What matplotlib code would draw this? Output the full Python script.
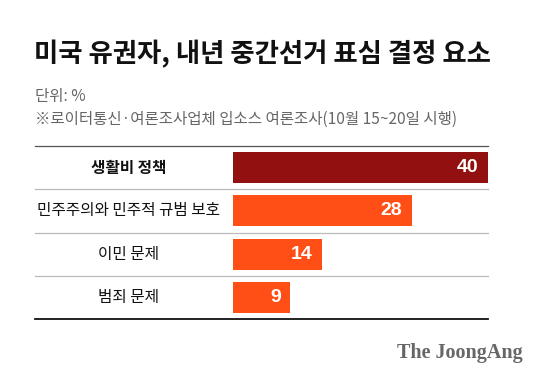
import matplotlib
matplotlib.use("Agg")
import matplotlib.pyplot as plt
from matplotlib.lines import Line2D

plt.rcParams['font.family'] = ['Noto Sans CJK KR', 'DejaVu Sans']

title = "미국 유권자, 내년 중간선거 표심 결정 요소"
unit = "단위: %"
note = "※로이터통신·여론조사업체 입소스 여론조사(10월 15~20일 시행)"
categories = ["생활비 정책", "민주주의와 민주적 규범 보호", "이민 문제", "범죄 문제"]
values = [40, 28, 14, 9]
colors = ["#921010", "#FF4F17", "#FF4F17", "#FF4F17"]
source = "The JoongAng"

W, H = 560, 385
fig = plt.figure(figsize=(W / 100, H / 100), dpi=100)
fig.patch.set_facecolor("white")

def fx(px):
    return px / W

def fy(py):
    return 1 - py / H

top, bottom = 146, 319
left, right = 233, 488
ax = fig.add_axes([fx(left), fy(bottom), fx(right) - fx(left), (bottom - top) / H])
ypos = list(range(len(categories)))
ax.barh(ypos, values, height=0.72, color=colors)
ax.set_xlim(0, 40)
ax.set_ylim(len(categories) - 0.5, -0.5)
ax.axis("off")

for y, v in zip(ypos, values):
    ax.text(v - 1.5, y, str(v), ha="right", va="center", color="white",
            fontsize=14, fontweight="bold", family=["Liberation Sans", "DejaVu Sans"])

row_h = (bottom - top) / len(categories)
for i, c in enumerate(categories):
    cy = top + row_h * (i + 0.5)
    fig.text(fx(128.5), fy(cy), c, ha="center", va="center", fontsize=11.3,
             fontweight="bold" if i == 0 else "medium", color="#111111")

# separators
fig.add_artist(Line2D([fx(35), fx(488)], [fy(top), fy(top)], color="#555555", lw=0.9))
for i in range(1, len(categories)):
    yy = top + row_h * i
    fig.add_artist(Line2D([fx(35), fx(488)], [fy(yy), fy(yy)], color="#bbbbbb", lw=0.9))
fig.add_artist(Line2D([fx(35), fx(488)], [fy(bottom), fy(bottom)], color="#111111", lw=1.3))

fig.text(fx(34), fy(54), title, ha="left", va="center", fontsize=19, fontweight="black", color="#111111")
fig.text(fx(35), fy(97), unit, ha="left", va="center", fontsize=11.2, color="#666666")
fig.text(fx(35), fy(119), note, ha="left", va="center", fontsize=11.2, color="#666666")
fig.text(fx(523), fy(353), source, ha="right", va="center", fontsize=14.5, fontweight="bold",
         color="#666666", family=["Liberation Serif"])

fig.savefig("out.png", dpi=100, facecolor="white")
